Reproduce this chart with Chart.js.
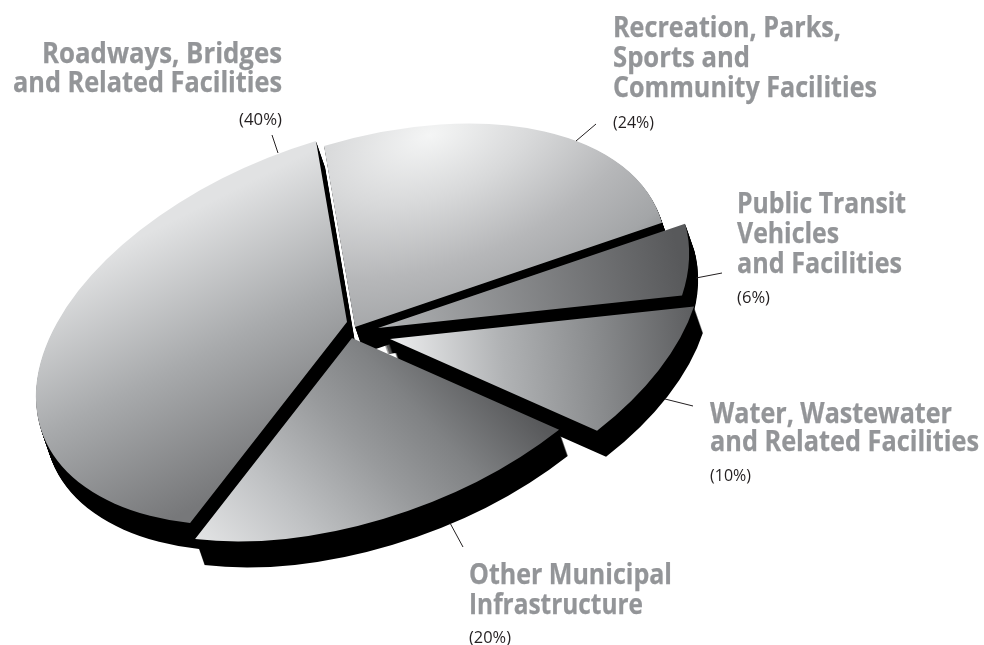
<!DOCTYPE html>
<html>
<head>
<meta charset="utf-8">
<title>Infrastructure funding by category</title>
<script src="https://cdn.jsdelivr.net/npm/chart.js@4"></script>
<style>
    html, body { margin: 0; padding: 0; background: #fff; }
    canvas { display: block; }
</style>
</head>
<body>
<canvas id="pie" width="984" height="645"></canvas>
<script>
// Slices run clockwise from the top of the disc
const categories = [
    ['Recreation, Parks,', 'Sports and', 'Community Facilities'],
    ['Public Transit', 'Vehicles', 'and Facilities'],
    ['Water, Wastewater', 'and Related Facilities'],
    ['Other Municipal', 'Infrastructure'],
    ['Roadways, Bridges', 'and Related Facilities']
];
const shares = [24, 6, 10, 20, 40];

// Tilted disc: page offset of the rim at the start angle and a quarter turn later
const RIM_TOP = { x: -31, y: -181 };
const RIM_RIGHT = { x: 309.6, y: -93 };
const WALL = { x: 9, y: 26 };

// Where each pulled-out wedge has its point
const hubs = [
    { x: 355, y: 327 },
    { x: 378, y: 328 },
    { x: 390, y: 339 },
    { x: 352, y: 338 },
    { x: 347, y: 322 }
];

const shading = [
    { radial: { x: 430, y: 135 }, stops: [[0, '#f4f5f5'], [0.3, '#d8d9da'], [0.62, '#b6b7b9'], [0.87, '#a3a5a7'], [1, '#8b8d8f']], reach: 1.15 },
    { from: { x: 380, y: 330 }, to: { x: 680, y: 260 }, stops: [[0, '#b0b2b4'], [1, '#58595b']] },
    { from: { x: 400, y: 340 }, to: { x: 695, y: 310 }, stops: [[0, '#e8e9ea'], [0.34, '#b0b2b4'], [0.65, '#8a8c8e'], [1, '#5c5d5f']] },
    { from: { x: 195, y: 535 }, to: { x: 436, y: 311 }, stops: [[0, '#e2e3e4'], [0.27, '#bfc1c3'], [0.55, '#989a9c'], [0.75, '#808284'], [1, '#58595b']] },
    { from: { x: 187, y: 213 }, to: { x: 307, y: 451 }, stops: [[0, '#e1e2e3'], [0.5, '#a8aaac'], [1, '#77787a']] }
];

// One entry per slice: text start or end, line baselines and widths, percent line, leader
const captions = [
    { x: 613, align: 'left', lines: [[37, 228], [67, 137], [97, 264]], pct: [128, 41], leader: [596, 124, 576, 141] },
    { x: 737, align: 'left', lines: [[213, 169], [243, 102], [273, 165]], pct: [303, 33], leader: [722, 273, 696, 278] },
    { x: 710, align: 'left', lines: [[423, 242], [451, 269]], pct: [481, 41], leader: [693, 406, 665, 399] },
    { x: 469, align: 'left', lines: [[584, 203], [614, 174]], pct: [643, 42], leader: [463, 547, 450, 523] },
    { x: 282, align: 'right', lines: [[63, 240], [92, 269]], pct: [125, 43], leader: [272, 135, 278, 153] }
];

// Maps the library's round pie onto the tilted disc for one wedge
function sliceMatrix(el, hub) {
    const r = el.outerRadius;
    const a = RIM_RIGHT.x / r, b = RIM_RIGHT.y / r;
    const c = -RIM_TOP.x / r, d = -RIM_TOP.y / r;
    return new DOMMatrix([a, b, c, d, hub.x - a * el.x - c * el.y, hub.y - b * el.x - d * el.y]);
}

// Gradient given in page coordinates, built in the wedge's own space
function sliceFill(ctx, el, m, shade) {
    const inv = m.inverse();
    let g;
    if (shade.radial) {
        const c = inv.transformPoint(shade.radial);
        g = ctx.createRadialGradient(c.x, c.y, 0, c.x, c.y, el.outerRadius * shade.reach);
    } else {
        const dx = shade.to.x - shade.from.x, dy = shade.to.y - shade.from.y;
        const len2 = dx * dx + dy * dy;
        const nx = (m.a * dx + m.b * dy) / len2, ny = (m.c * dx + m.d * dy) / len2;
        const n2 = nx * nx + ny * ny;
        const q = inv.transformPoint(shade.from);
        g = ctx.createLinearGradient(q.x, q.y, q.x + nx / n2, q.y + ny / n2);
    }
    shade.stops.forEach(s => g.addColorStop(s[0], s[1]));
    return g;
}

const tiltedDisc = {
    id: 'tiltedDisc',
    beforeDatasetsDraw(chart) {
        const ctx = chart.ctx;
        const arcs = chart.getDatasetMeta(0).data;
        const base = arcs.map(el => el.options);
        const matrices = arcs.map((el, i) => sliceMatrix(el, hubs[i]));

        // Black side walls first, stacked downwards
        arcs.forEach((el, i) => {
            const m = matrices[i];
            el.options = Object.assign({}, base[i], { backgroundColor: '#000' });
            for (let k = WALL.y; k >= 1; k--) {
                ctx.save();
                ctx.translate(WALL.x * k / WALL.y, k);
                ctx.transform(m.a, m.b, m.c, m.d, m.e, m.f);
                el.draw(ctx);
                ctx.restore();
            }
        });

        // Shaded tops
        arcs.forEach((el, i) => {
            const m = matrices[i];
            ctx.save();
            ctx.transform(m.a, m.b, m.c, m.d, m.e, m.f);
            el.options = Object.assign({}, base[i], { backgroundColor: sliceFill(ctx, el, m, shading[i]) });
            el.draw(ctx);
            ctx.restore();
            el.options = base[i];
        });
        return false;
    },
    afterDraw(chart) {
        const ctx = chart.ctx;
        captions.forEach((cap, i) => {
            ctx.strokeStyle = '#231f20';
            ctx.lineWidth = 1;
            ctx.beginPath();
            ctx.moveTo(cap.leader[0], cap.leader[1]);
            ctx.lineTo(cap.leader[2], cap.leader[3]);
            ctx.stroke();

            ctx.fillStyle = '#939598';
            ctx.strokeStyle = '#939598';
            ctx.lineWidth = 0.25;
            ctx.font = 'bold 28px "Open Sans"';
            categories[i].forEach((line, j) => fitText(ctx, line, cap.x, cap.lines[j][0], cap.lines[j][1], cap.align, true));

            ctx.fillStyle = '#231f20';
            ctx.font = '16.5px "Open Sans"';
            fitText(ctx, '(' + shares[i] + '%)', cap.x, cap.pct[0], cap.pct[1], cap.align, false);
        });
    }
};

// Text squeezed horizontally to a set width, the typeface here is wider than the condensed look wanted
function fitText(ctx, text, x, y, width, align, heavy) {
    const sx = width / ctx.measureText(text).width;
    ctx.save();
    ctx.translate(x, y);
    ctx.scale(sx, 1);
    ctx.textAlign = align;
    ctx.textBaseline = 'alphabetic';
    ctx.fillText(text, 0, 0);
    if (heavy) ctx.strokeText(text, 0, 0);
    ctx.restore();
}

new Chart(document.getElementById('pie'), {
    type: 'pie',
    data: {
        labels: categories.map(c => c.join(' ')),
        datasets: [{
            data: shares,
            backgroundColor: '#a7a9ac',
            borderWidth: 0
        }]
    },
    plugins: [tiltedDisc],
    options: {
        responsive: false,
        animation: false,
        plugins: {
            legend: { display: false },
            tooltip: { enabled: false }
        }
    }
});
</script>
</body>
</html>
